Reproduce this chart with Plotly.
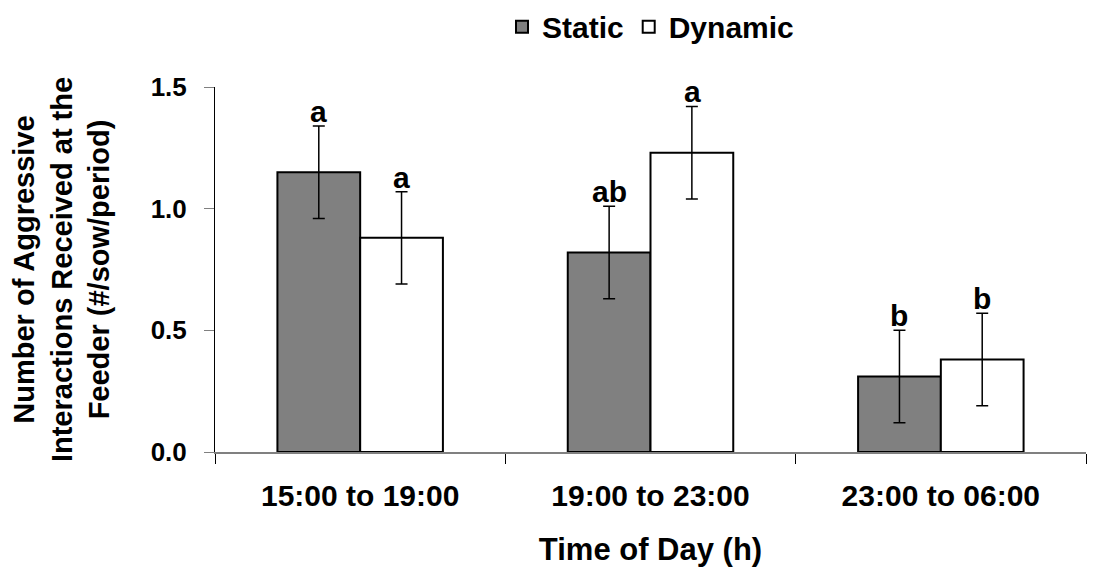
import plotly.graph_objects as go

categories = ["15:00 to 19:00", "19:00 to 23:00", "23:00 to 06:00"]
static_vals = [1.15, 0.82, 0.31]
dynamic_vals = [0.88, 1.23, 0.38]
static_err = [0.19, 0.19, 0.19]
dynamic_err = [0.19, 0.19, 0.19]
static_letters = ["a", "ab", "b"]
dynamic_letters = ["a", "a", "b"]
y_ticks = [0.0, 0.5, 1.0, 1.5]
y_tick_text = ["0.0", "0.5", "1.0", "1.5"]

FONT = "Liberation Sans, Arial, sans-serif"

fig = go.Figure()
fig.add_trace(go.Bar(
    name="Static", x=categories, y=static_vals,
    marker=dict(color="#808080", line=dict(color="black", width=2)),
    error_y=dict(type="data", array=static_err, color="black", thickness=1.5, width=6),
))
fig.add_trace(go.Bar(
    name="Dynamic", x=categories, y=dynamic_vals,
    marker=dict(color="white", line=dict(color="black", width=2)),
    error_y=dict(type="data", array=dynamic_err, color="black", thickness=1.5, width=6),
))

half = 41.5
for cat, v, e, t in zip(categories, static_vals, static_err, static_letters):
    fig.add_annotation(x=cat, y=v + e, text=t, showarrow=False, xref="x", yref="y",
                       xshift=-half, yshift=-4, yanchor="bottom",
                       font=dict(family=FONT, size=30, color="black", weight="bold"))
for cat, v, e, t in zip(categories, dynamic_vals, dynamic_err, dynamic_letters):
    fig.add_annotation(x=cat, y=v + e, text=t, showarrow=False, xref="x", yref="y",
                       xshift=half, yshift=-4, yanchor="bottom",
                       font=dict(family=FONT, size=30, color="black", weight="bold"))

fig.update_layout(
    width=1088, height=559,
    margin=dict(l=207, r=10, t=79, b=115, autoexpand=False),
    paper_bgcolor="white", plot_bgcolor="white",
    barmode="group", bargap=0.43, bargroupgap=0,
    font=dict(family=FONT, color="black"),
    showlegend=True,
    legend=dict(orientation="h", x=0.5, xanchor="center", y=1.165, yanchor="middle",
                font=dict(family=FONT, size=30, color="black", weight="bold"),
                itemwidth=30, traceorder="normal", bgcolor="rgba(0,0,0,0)"),
    xaxis=dict(
        automargin=False,
        showline=True, linecolor="#808080", linewidth=1.5,
        ticks="outside", tickson="boundaries", ticklen=10, tickcolor="black", tickwidth=1,
        showgrid=False, zeroline=False,
        tickfont=dict(family=FONT, size=30, color="black", weight="bold"),
        ticklabelstandoff=16,
        title=dict(text="Time of Day (h)", standoff=28,
                   font=dict(family=FONT, size=31, color="black", weight="bold")),
    ),
    yaxis=dict(
        automargin=False,
        range=[0, 1.5], tickvals=y_ticks, ticktext=y_tick_text,
        showline=True, linecolor="black", linewidth=1,
        ticks="outside", ticklen=10, tickcolor="#808080", tickwidth=1,
        showgrid=False, zeroline=False,
        tickfont=dict(family=FONT, size=26, color="black", weight="bold"),
        ticklabelstandoff=12,
        title=dict(text="Number of Aggressive<br>Interactions Received at the<br>Feeder (#/sow/period)",
                   standoff=34,
                   font=dict(family=FONT, size=29, color="black", weight="bold")),
    ),
)

fig.write_html("out.html")
